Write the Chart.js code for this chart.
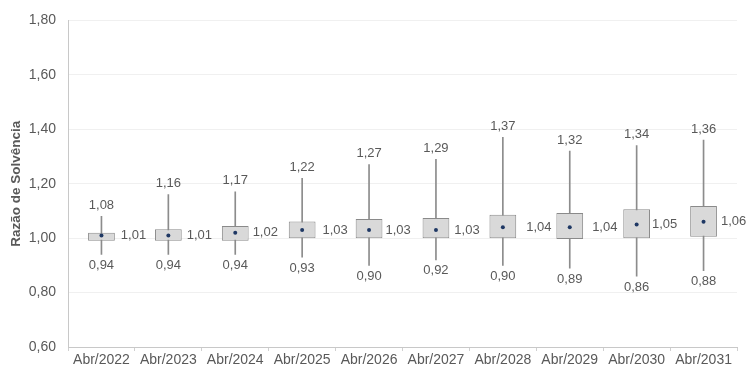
<!DOCTYPE html>
<html>
<head>
<meta charset="utf-8">
<script src="https://cdn.jsdelivr.net/npm/chart.js@4/dist/chart.umd.min.js"></script>
<style>
  html, body { margin: 0; padding: 0; background: #ffffff; }
  #wrap { width: 747px; height: 369px; }
</style>
</head>
<body>
<div id="wrap"><canvas id="c" width="747" height="369"></canvas></div>
<script>
// Solvency ratio distribution per projection date
const categories = ['Abr/2022','Abr/2023','Abr/2024','Abr/2025','Abr/2026','Abr/2027','Abr/2028','Abr/2029','Abr/2030','Abr/2031'];
const minValues  = [0.94, 0.94, 0.94, 0.93, 0.90, 0.92, 0.90, 0.89, 0.86, 0.88];
const q1Values   = [0.99, 0.99, 0.99, 1.00, 1.00, 1.00, 1.00, 0.997, 1.00, 1.005];
const meanValues = [1.01, 1.01, 1.02, 1.03, 1.03, 1.03, 1.04, 1.04, 1.05, 1.06];
const q3Values   = [1.02, 1.033, 1.045, 1.061, 1.07, 1.074, 1.086, 1.092, 1.106, 1.118];
const maxValues  = [1.08, 1.16, 1.17, 1.22, 1.27, 1.29, 1.37, 1.32, 1.34, 1.36];
const yTicks     = [0.60, 0.80, 1.00, 1.20, 1.40, 1.60, 1.80];

const fmt = v => v.toFixed(2).replace('.', ',');
const textColor = '#595959';
const family = '"Liberation Sans", Arial, sans-serif';

// Horizontal gap (px) between each box and its mean label
const meanLabelGap = [6, 5, 4, 7, 3, 5, 10, 9, 2, 4];

// Value labels: maximum above the whisker, minimum below, mean to the right of the box
const valueLabels = {
  id: 'valueLabels',
  afterDatasetsDraw(chart) {
    const ctx = chart.ctx;
    const y = chart.scales.y;
    const boxMeta = chart.getDatasetMeta(1);
    ctx.save();
    ctx.font = '13px ' + family;
    ctx.fillStyle = textColor;
    ctx.textBaseline = 'middle';
    categories.forEach((c, i) => {
      const bar = boxMeta.data[i];
      const cx = bar.x;
      ctx.textAlign = 'center';
      ctx.fillText(fmt(maxValues[i]), cx, y.getPixelForValue(maxValues[i]) - 11);
      ctx.fillText(fmt(minValues[i]), cx, y.getPixelForValue(minValues[i]) + 11);
      ctx.textAlign = 'left';
      ctx.fillText(fmt(meanValues[i]), cx + bar.width / 2 + meanLabelGap[i], y.getPixelForValue(meanValues[i]));
    });
    ctx.restore();
  }
};

new Chart(document.getElementById('c'), {
  type: 'bar',
  data: {
    labels: categories,
    datasets: [
      {
        type: 'line',
        label: 'Média',
        data: meanValues,
        showLine: false,
        pointRadius: 2,
        pointBackgroundColor: '#1f3864',
        pointBorderColor: '#1f3864',
        pointBorderWidth: 0,
        order: 0
      },
      {
        label: 'Q1–Q3',
        data: categories.map((c, i) => [q1Values[i], q3Values[i]]),
        backgroundColor: '#d9d9d9',
        borderColor: '#8a8a8a',
        borderWidth: 1,
        borderSkipped: false,
        grouped: false,
        barPercentage: 0.4,
        categoryPercentage: 1,
        order: 1
      },
      {
        label: 'Mín–Máx',
        data: categories.map((c, i) => [minValues[i], maxValues[i]]),
        backgroundColor: '#8c8c8c',
        borderWidth: 0,
        grouped: false,
        barThickness: 1,
        order: 2
      }
    ]
  },
  options: {
    responsive: false,
    animation: false,
    devicePixelRatio: 1,
    layout: { padding: { top: 18, right: 10, bottom: 0, left: 0 } },
    plugins: {
      legend: { display: false },
      tooltip: { enabled: false }
    },
    scales: {
      x: {
        offset: true,
        grid: {
          offset: true,
          drawOnChartArea: false,
          drawTicks: true,
          tickLength: 4,
          color: '#d0d0d0'
        },
        border: { color: '#c8c8c8', width: 1 },
        ticks: {
          color: textColor,
          font: { family: family, size: 14 },
          padding: 1,
          maxRotation: 0,
          autoSkip: false
        },
        afterFit(scale) { scale.height = 22; }
      },
      y: {
        min: 0.6,
        max: 1.8,
        afterBuildTicks(scale) { scale.ticks = yTicks.map(v => ({ value: v })); },
        grid: {
          color: '#f0f0f0',
          drawTicks: false
        },
        border: { color: '#c8c8c8', width: 1 },
        ticks: {
          color: textColor,
          font: { family: family, size: 14 },
          padding: 12,
          callback: v => fmt(v)
        },
        title: {
          display: true,
          text: 'Razão de Solvência',
          color: textColor,
          font: { family: family, size: 13.5, weight: 'bold' },
          padding: { top: 8, bottom: 0 }
        },
        afterFit(scale) { scale.width = 68; }
      }
    }
  },
  plugins: [valueLabels]
});
</script>
</body>
</html>
